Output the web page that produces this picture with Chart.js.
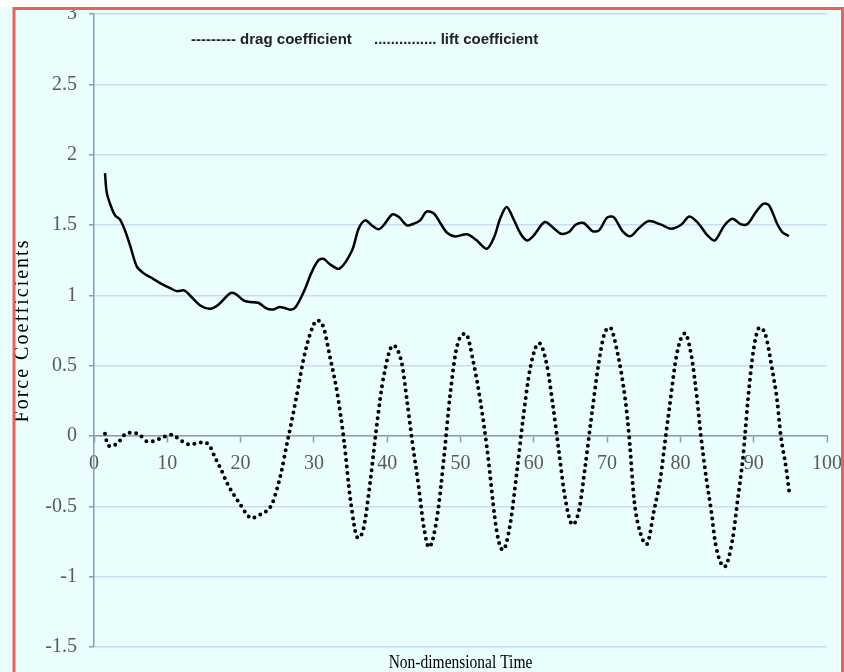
<!DOCTYPE html>
<html>
<head>
<meta charset="utf-8">
<script src="https://cdn.jsdelivr.net/npm/chart.js@4.4.1/dist/chart.umd.min.js"></script>
<style>
  html, body { margin: 0; padding: 0; background: #eafefe; }
  canvas { display: block; }
</style>
</head>
<body>
<canvas id="c" width="844" height="672"></canvas>
<script>
// ---- data ----
const dragTime = [1.5,1.73,2.19,2.87,3.55,4.23,4.92,5.83,6.74,7.65,9.02,10.38,11.3,12.3,13.1,14.5,15.85,17.0,18.6,19.3,20.4,21.3,22.4,23.6,24.5,25.2,25.9,26.8,27.5,28.6,29.7,30.6,31.3,32.2,33.5,35.2,36.1,37.0,37.9,38.8,39.5,40.7,41.6,42.7,43.6,44.5,45.4,46.4,47.3,48.2,49.3,50.5,51.1,52.3,53.6,54.6,55.4,56.3,57.2,58.2,59.1,60.0,61.5,62.8,63.7,64.8,65.7,66.8,68.0,68.9,70.0,70.9,72.1,73.2,74.4,75.7,77.3,78.7,80.1,81.2,82.3,83.7,84.7,86.0,87.1,88.3,89.2,90.3,91.3,92.1,93.2,93.9,94.8];
const dragCoef = [1.869,1.734,1.651,1.568,1.538,1.461,1.355,1.206,1.158,1.130,1.087,1.051,1.030,1.035,0.999,0.928,0.905,0.935,1.016,1.011,0.964,0.952,0.947,0.905,0.900,0.916,0.912,0.898,0.916,1.023,1.165,1.248,1.260,1.220,1.190,1.319,1.474,1.533,1.497,1.469,1.497,1.575,1.556,1.497,1.509,1.533,1.597,1.580,1.509,1.443,1.419,1.433,1.431,1.386,1.331,1.414,1.545,1.628,1.545,1.438,1.390,1.426,1.521,1.474,1.438,1.450,1.502,1.514,1.457,1.462,1.552,1.556,1.457,1.421,1.481,1.528,1.504,1.474,1.502,1.561,1.521,1.426,1.390,1.497,1.545,1.504,1.509,1.592,1.651,1.639,1.509,1.450,1.421];

const liftTime = [1.5,1.75,2.2,2.9,3.55,4.45,5.4,6.3,7.2,8.1,9.2,10.6,11.7,13.1,14.0,14.9,15.75,16.5,17.4,18.1,19.0,19.9,20.8,21.5,22.4,23.6,24.3,24.9,25.6,26.3,26.8,27.7,28.6,29.5,30.4,31.3,32.2,33.2,34.1,35.0,36.0,36.8,37.7,38.6,39.5,40.8,42.0,42.7,43.4,44.3,45.0,45.7,46.8,47.7,48.6,49.5,50.7,51.8,52.7,53.6,55.0,55.8,56.8,57.7,58.6,59.5,60.7,61.8,62.6,63.4,64.3,65.3,66.2,67.0,67.9,68.8,69.6,70.4,71.3,72.5,73.0,73.7,74.6,75.4,76.4,77.3,78.0,78.5,79.5,80.6,81.5,82.3,82.8,83.5,84.2,84.8,86.0,87.1,87.8,88.5,88.8,89.2,90.0,90.8,91.6,92.5,93.2,93.7,94.4,94.85];
const liftCoef = [0.016,-0.044,-0.073,-0.063,-0.032,0.020,0.023,0.004,-0.037,-0.037,-0.013,0.009,-0.027,-0.060,-0.051,-0.044,-0.068,-0.151,-0.245,-0.329,-0.411,-0.482,-0.553,-0.585,-0.565,-0.530,-0.482,-0.388,-0.245,-0.06,0.063,0.300,0.549,0.727,0.821,0.774,0.560,0.300,-0.032,-0.459,-0.724,-0.649,-0.317,0.087,0.418,0.644,0.513,0.252,-0.032,-0.364,-0.649,-0.791,-0.578,-0.174,0.300,0.632,0.727,0.513,0.252,-0.080,-0.696,-0.81,-0.62,-0.25,0.15,0.48,0.66,0.50,0.22,-0.10,-0.45,-0.63,-0.52,-0.22,0.15,0.50,0.72,0.77,0.62,0.25,0.0,-0.46,-0.70,-0.77,-0.53,-0.29,0.0,0.20,0.58,0.73,0.57,0.25,0.0,-0.29,-0.53,-0.77,-0.93,-0.74,-0.46,-0.17,0.0,0.25,0.62,0.77,0.72,0.48,0.25,0.0,-0.22,-0.40];

const legendTexts = ['--------- drag coefficient', '............... lift coefficient'];
const yAxisTitle = 'Force Coefficients';
const xAxisTitle = 'Non-dimensional Time';
const yMin = -1.5, yMax = 3, yStep = 0.5;
const xMin = 0, xMax = 100, xStep = 10;

// ---- build chart ----
const toXY = (xs, ys) => xs.map((x, i) => ({x: x, y: ys[i]}));

const decor = {
  id: 'decor',
  beforeDraw(chart) {
    const ctx = chart.ctx;
    ctx.save();
    ctx.fillStyle = '#eafefe';
    ctx.fillRect(0, 0, chart.width, chart.height);
    ctx.restore();
  },
  afterDraw(chart) {
    const ctx = chart.ctx;
    const area = chart.chartArea;
    ctx.save();
    // legend texts
    ctx.fillStyle = '#222';
    ctx.font = 'bold 15px "Liberation Sans", Arial, sans-serif';
    ctx.textBaseline = 'middle';
    ctx.textAlign = 'left';
    ctx.fillText(legendTexts[0], 191, 40);
    ctx.fillText(legendTexts[1], 374, 40);
    ctx.restore();
    // x axis title (slightly tall, like the reference)
    ctx.save();
    ctx.fillStyle = '#000';
    ctx.font = '15.5px "Liberation Serif", "Times New Roman", serif';
    ctx.textAlign = 'center';
    ctx.textBaseline = 'alphabetic';
    ctx.translate((area.left + area.right) / 2, 668);
    ctx.scale(1, 1.22);
    ctx.fillText(xAxisTitle, 0, 0);
    ctx.restore();
    // y axis title
    ctx.save();
    ctx.fillStyle = '#000';
    ctx.font = '20px "Liberation Serif", "Times New Roman", serif';
    ctx.textAlign = 'center';
    ctx.textBaseline = 'alphabetic';
    ctx.translate(28, (area.top + area.bottom) / 2);
    ctx.rotate(-Math.PI / 2);
    try { ctx.letterSpacing = '2px'; } catch (e) {}
    ctx.fillText(yAxisTitle, 0, 0);
    ctx.restore();
    // white strip + red frame
    ctx.save();
    ctx.fillStyle = '#ffffff';
    ctx.fillRect(0, 0, chart.width, 7);
    ctx.strokeStyle = '#e8625c';
    ctx.lineWidth = 3;
    ctx.strokeRect(14, 8.5, 828.5, 700);
    ctx.restore();
  }
};

const tickFont = {family: '"Liberation Serif", "Times New Roman", serif', size: 20};

new Chart(document.getElementById('c'), {
  type: 'line',
  data: {
    datasets: [
      {
        label: 'drag coefficient',
        data: toXY(dragTime, dragCoef),
        borderColor: '#000',
        borderWidth: 2.5,
        pointRadius: 0,
        tension: 0.3,
        fill: false
      },
      {
        label: 'lift coefficient',
        data: toXY(liftTime, liftCoef),
        borderColor: '#000',
        borderWidth: 4,
        borderDash: [0, 6.5],
        borderCapStyle: 'round',
        pointRadius: 0,
        cubicInterpolationMode: 'monotone',
        fill: false
      }
    ]
  },
  options: {
    responsive: false,
    animation: false,
    events: [],
    layout: { padding: { left: 0, top: 14, right: 17, bottom: 25 } },
    plugins: { legend: { display: false }, tooltip: { enabled: false }, title: { display: false } },
    scales: {
      x: {
        type: 'linear',
        position: { y: 0 },
        min: xMin, max: xMax,
        afterFit(scale) { scale.paddingLeft = 0; scale.paddingRight = 0; scale.paddingTop = 0; scale.paddingBottom = 0; },
        ticks: { stepSize: xStep, font: tickFont, color: '#5a5a5a', padding: 10, maxRotation: 0, autoSkip: false },
        grid: { drawOnChartArea: false, drawTicks: true, tickLength: 6, tickColor: '#8e9ab5', tickWidth: 1.5 },
        border: { display: true, color: '#8e9ab5', width: 1.5 }
      },
      y: {
        type: 'linear',
        position: 'left',
        min: yMin, max: yMax,
        afterFit(scale) { scale.width = 94; scale.paddingTop = 0; scale.paddingBottom = 0; },
        ticks: { stepSize: yStep, font: tickFont, color: '#5a5a5a', padding: 12,
                 callback: (v) => String(Math.round(v * 10) / 10) },
        grid: { color: '#c9dcf3', lineWidth: 1.5, tickLength: 5, tickColor: '#8e9ab5', z: -1 },
        border: { display: true, color: '#8e9ab5', width: 1.5 }
      }
    }
  },
  plugins: [decor]
});
</script>
</body>
</html>
